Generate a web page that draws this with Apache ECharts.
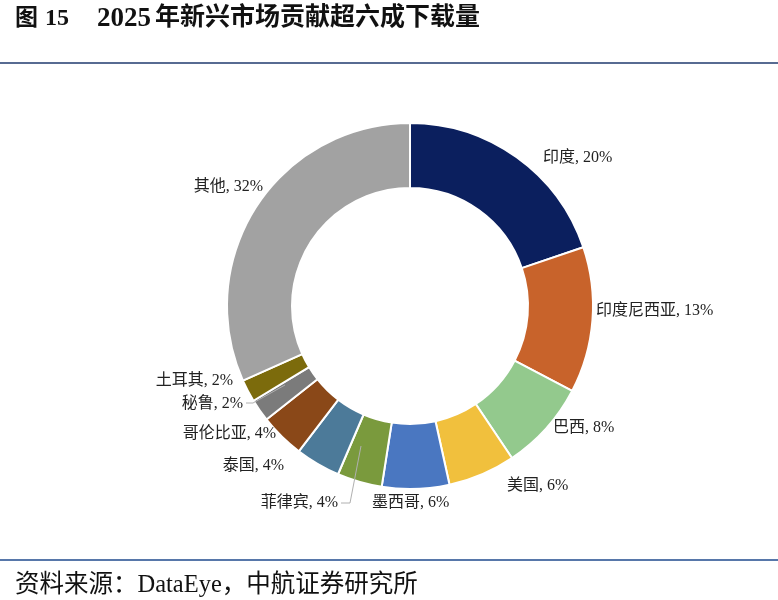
<!DOCTYPE html>
<html>
<head>
<meta charset="utf-8">
<script src="https://cdn.jsdelivr.net/npm/echarts@6/dist/echarts.min.js"></script>
<style>
  html, body { margin: 0; padding: 0; background: #fff; }
  #main { width: 778px; height: 600px; }
</style>
</head>
<body>
<div id="main"></div>
<script>
// 数据
const categories = ['印度', '印度尼西亚', '巴西', '美国', '墨西哥', '菲律宾', '泰国', '哥伦比亚', '秘鲁', '土耳其', '其他'];
const shares = [20, 13, 8, 6, 6, 4, 4, 4, 2, 2, 32];
const colors = ['#0b1f5e', '#c8632b', '#93c98d', '#f1c03d', '#4a77c1', '#7a9a3d', '#4c7a99', '#8a4818', '#7b7b7b', '#7c6b0c', '#a2a2a2'];

// 标签位置 [x, y, 对齐]
const labelPos = [
  [543, 158, 'left'],
  [596, 311, 'left'],
  [553, 428, 'left'],
  [507, 486, 'left'],
  [372, 503, 'left'],
  [338, 503, 'right'],
  [284, 466, 'right'],
  [276, 434, 'right'],
  [243, 404, 'right'],
  [233, 381, 'right'],
  [263, 187, 'right']
];
// 引导线（菲律宾、秘鲁）
const leaderLines = [
  [[341, 503], [350, 503], [361, 446]],
  [[246, 403], [253, 403], [285, 385]]
];

const serifFont = "'Liberation Serif', 'Noto Sans CJK SC', serif";

const chart = echarts.init(document.getElementById('main'), null, { renderer: 'canvas' });

function titleText(x, str, size) {
  return {
    type: 'text', x: x, y: 19,
    style: {
      text: str,
      font: 'bold ' + size + 'px ' + serifFont,
      fill: '#111',
      verticalAlign: 'middle'
    }
  };
}

const graphics = [
  titleText(15, '图', 23),
  titleText(45, '15', 24),
  titleText(97, '2025', 27),
  titleText(155, '年新兴市场贡献超六成下载量', 25),
  {
    type: 'line',
    shape: { x1: 0, y1: 63, x2: 778, y2: 63 },
    style: { stroke: '#1f3a6e', lineWidth: 1.5 }
  },
  {
    type: 'line',
    shape: { x1: 0, y1: 560, x2: 778, y2: 560 },
    style: { stroke: '#1f4a8e', lineWidth: 1.5 }
  },
  {
    type: 'text', x: 15, y: 586,
    style: {
      text: '资料来源：DataEye，中航证券研究所',
      font: '24.5px ' + serifFont,
      fill: '#111',
      verticalAlign: 'middle'
    }
  }
];
leaderLines.forEach(function (pts) {
  graphics.push({
    type: 'polyline', z: 100,
    shape: { points: pts },
    style: { stroke: '#b0b0b0', lineWidth: 1, fill: null }
  });
});

const option = {
  animation: false,
  backgroundColor: '#fff',
  graphic: graphics,
  series: [
    {
      type: 'pie',
      center: [410, 306],
      radius: [118, 183],
      startAngle: 90,
      clockwise: true,
      avoidLabelOverlap: false,
      itemStyle: { borderColor: '#fff', borderWidth: 2 },
      label: {
        show: true,
        position: 'outside',
        formatter: '{b}, {c}%',
        fontSize: 16,
        fontFamily: serifFont,
        color: '#222'
      },
      labelLine: { show: false },
      labelLayout: function (params) {
        const p = labelPos[params.dataIndex];
        return { x: p[0], y: p[1], align: p[2], verticalAlign: 'middle' };
      },
      data: categories.map(function (name, i) {
        return { name: name, value: shares[i], itemStyle: { color: colors[i] } };
      })
    }
  ]
};

chart.setOption(option);
</script>
</body>
</html>
